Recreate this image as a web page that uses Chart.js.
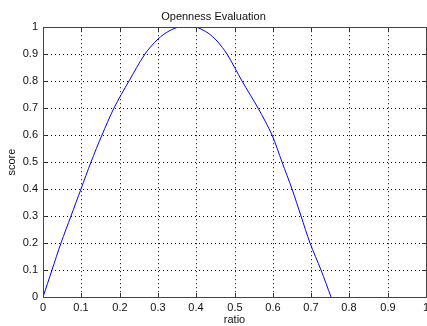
<!DOCTYPE html>
<html>
<head>
<meta charset="utf-8">
<script src="https://cdn.jsdelivr.net/npm/chart.js@4/dist/chart.umd.min.js"></script>
<style>
  body { margin: 0; background: #fff; }
  #wrap { width: 427px; height: 326px; }
</style>
</head>
<body>
<div id="wrap"><canvas id="mainChart"></canvas></div>
<script>
// values
const ratio = [0, 0.023, 0.046, 0.0725, 0.0987, 0.125, 0.154, 0.186, 0.225, 0.267, 0.3, 0.33, 0.355, 0.378, 0.4, 0.43, 0.455, 0.48, 0.52, 0.561, 0.598, 0.624, 0.649, 0.673, 0.697, 0.725, 0.751];
const score = [0, 0.1, 0.2, 0.3, 0.4, 0.5, 0.6, 0.7, 0.8, 0.9, 0.955, 0.985, 1.0, 1.0, 1.0, 0.98, 0.95, 0.9, 0.8, 0.7, 0.6, 0.5, 0.4, 0.3, 0.2, 0.1, 0];
const tickValues = [0, 0.1, 0.2, 0.3, 0.4, 0.5, 0.6, 0.7, 0.8, 0.9, 1];

const ctx = document.getElementById('mainChart');
const font = { family: "'Liberation Sans', Arial, sans-serif", size: 11 };

var points = [];
for (let i = 0; i < ratio.length; i++) {
    points.push({ x: ratio[i], y: score[i] });
}

function tickLabel(v) {
    return String(Number(v.toFixed(1)));
}

// box around the plot area plus small inward ticks, matlab style
const boxPlugin = {
    id: 'box',
    afterDraw(chart) {
        const c = chart.ctx;
        const a = chart.chartArea;
        const xs = chart.scales.x, ys = chart.scales.y;
        c.save();
        c.strokeStyle = '#333';
        c.lineWidth = 1;
        c.beginPath();
        tickValues.forEach(v => {
            const px = Math.round(xs.getPixelForValue(v)) + 0.5;
            c.moveTo(px, a.bottom); c.lineTo(px, a.bottom - 4);
            c.moveTo(px, a.top); c.lineTo(px, a.top + 4);
            const py = Math.round(ys.getPixelForValue(v)) + 0.5;
            c.moveTo(a.left, py); c.lineTo(a.left + 4, py);
            c.moveTo(a.right, py); c.lineTo(a.right - 4, py);
        });
        c.stroke();
        c.strokeStyle = '#444';
        c.strokeRect(Math.round(a.left) + 0.5, Math.round(a.top) + 0.5,
            Math.round(a.right - a.left), Math.round(a.bottom - a.top));
        c.restore();
    }
};

new Chart(ctx, {
    type: 'line',
    data: {
        datasets: [{
            label: 'score',
            data: points,
            borderColor: '#0000ff',
            borderWidth: 1,
            pointRadius: 0,
            tension: 0.3,
            fill: false
        }]
    },
    options: {
        responsive: true,
        maintainAspectRatio: false,
        animation: false,
        layout: { padding: { left: 0, right: 0, top: 0, bottom: 0 } },
        plugins: {
            legend: { display: false },
            tooltip: { enabled: false },
            title: {
                display: true,
                text: 'Openness Evaluation',
                color: '#111',
                font: { family: font.family, size: 11, weight: 'normal' },
                padding: { top: 10, bottom: 4 }
            }
        },
        scales: {
            x: {
                type: 'linear',
                min: 0, max: 1,
                alignToPixels: true,
                afterFit: (s) => { s.height = 29; s.paddingRight = 1; s.paddingLeft = 0; },
                ticks: { stepSize: 0.1, color: '#111', font: font, padding: 4, maxRotation: 0, callback: tickLabel },
                grid: { color: '#000', drawTicks: false },
                border: { display: false, dash: [1, 3] },
                title: { display: true, text: 'ratio', color: '#111', font: font, padding: { top: 0, bottom: -1 } }
            },
            y: {
                min: 0, max: 1,
                alignToPixels: true,
                afterFit: (s) => { s.width = 43; },
                ticks: { stepSize: 0.1, color: '#111', font: font, padding: 5, callback: tickLabel },
                grid: { color: '#000', drawTicks: false },
                border: { display: false, dash: [1, 3] },
                title: { display: true, text: 'score', color: '#111', font: font, padding: { top: 5, bottom: 0 } }
            }
        }
    },
    plugins: [boxPlugin]
});
</script>
</body>
</html>
